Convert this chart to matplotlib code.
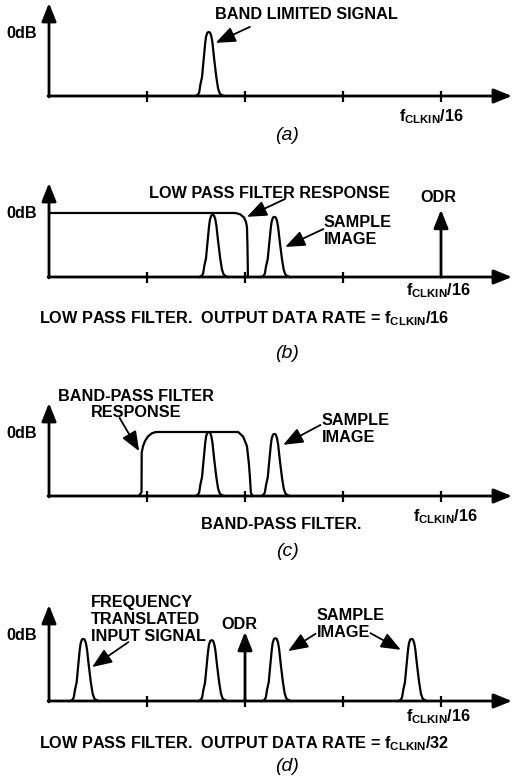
import matplotlib
matplotlib.use("Agg")
import matplotlib.pyplot as plt
import numpy as np

plt.rcParams['font.family'] = ['Liberation Sans', 'DejaVu Sans']
plt.rcParams['mathtext.fontset'] = 'custom'
plt.rcParams['mathtext.rm'] = 'Liberation Sans:bold'
plt.rcParams['mathtext.bf'] = 'Liberation Sans:bold'
plt.rcParams['mathtext.it'] = 'Liberation Sans:bold'

# ---------------- data (frequency in tick units, amplitude 1 = 0dB) ----------------
# normalised shape of one band-limited signal (offset from centre, relative height)
peak_dx = [-0.135, -0.110, -0.097, -0.085, -0.068, -0.052, -0.036, -0.027, -0.014, 0.0,
           0.014, 0.027, 0.038, 0.056, 0.077, 0.095, 0.112, 0.128, 0.155]
peak_dy = [0.0, 0.02, 0.06, 0.18, 0.30, 0.57, 0.83, 0.93, 0.99, 1.0,
           0.99, 0.93, 0.83, 0.57, 0.30, 0.12, 0.04, 0.02, 0.0]

a_centers = [1.63]
a_amps = [1.0]

b_centers = [1.67, 2.30]
b_amps = [0.97, 0.94]
lpf_x = [0.0, 1.90, 1.95, 1.99, 2.01, 2.02, 2.025, 2.03]
lpf_y = [1.0, 1.0, 0.98, 0.93, 0.86, 0.78, 0.50, 0.0]
b_odr = 4.0
b_odr_h = 1.05

c_centers = [1.63, 2.30]
c_amps = [1.0, 0.97]
bpf_x = [0.918, 0.944, 0.946, 0.96, 0.98, 1.01, 1.05, 1.09, 1.93, 1.98, 2.02, 2.04, 2.05, 2.06, 2.077]
bpf_y = [0.0, 0.06, 0.68, 0.78, 0.86, 0.93, 0.98, 1.0, 1.0, 0.93, 0.78, 0.50, 0.30, 0.05, 0.0]

d_centers = [0.35, 1.66, 2.31, 3.70]
d_amps = [0.97, 0.95, 0.98, 0.97]
d_odr = 2.0
d_odr_h = 1.08

ticks_a = [1, 2, 3, 4]
ticks_b = [1, 2, 3]
ticks_c = [1, 2, 3, 4]
ticks_d = [1, 2, 3, 4]

FCLK16 = r'$\mathrm{f_{CLKIN}/16}$'
FCLK32 = r'$\mathrm{f_{CLKIN}/32}$'

# ---------------- layout ----------------
W, H = 512, 783
fig = plt.figure(figsize=(W / 100, H / 100), dpi=100)
X0 = 49        # y-axis pixel column
UX = 98.0      # pixels per tick unit
UY = 64.0      # pixels per 0dB
XMAX = (W - X0) / UX

BOLD = dict(fontsize=11.7, fontweight='bold', color='black')
LW = 1.6


def make_axes(y_axis_px, top_px):
    h = y_axis_px - top_px
    ax = fig.add_axes([X0 / W, 1 - y_axis_px / H, (W - X0) / W, h / H])
    ax.set_xlim(0, XMAX)
    ax.set_ylim(0, h / UY)
    ax.axis('off')
    ymax = h / UY
    arr = dict(arrowstyle='-|>,head_length=0.55,head_width=0.22', lw=2, color='black',
               mutation_scale=20, shrinkA=0, shrinkB=0)
    ax.annotate('', xy=(XMAX, 0), xytext=(-0.01, 0), arrowprops=arr, annotation_clip=False)
    ax.annotate('', xy=(0, ymax), xytext=(0, -0.015), arrowprops=arr, annotation_clip=False)
    return ax


def draw_ticks(ax, ticks):
    ax.vlines(ticks, -0.095, 0.08, color='black', lw=1.6, clip_on=False)


def draw_peaks(ax, centers, amps):
    for c, a in zip(centers, amps):
        ax.plot([c + d for d in peak_dx], [a * v for v in peak_dy], color='black', lw=LW,
                clip_on=False, solid_joinstyle='round')


def pointer(ax, start, end):
    ax.annotate('', xy=end, xytext=start,
                arrowprops=dict(arrowstyle='-|>,head_length=0.75,head_width=0.3', lw=1.3,
                                color='black', mutation_scale=16, shrinkA=0, shrinkB=0),
                annotation_clip=False)


def odr_arrow(ax, x, h):
    ax.annotate('', xy=(x, h), xytext=(x, 0),
                arrowprops=dict(arrowstyle='-|>,head_length=0.55,head_width=0.22', lw=2,
                                color='black', mutation_scale=20, shrinkA=0, shrinkB=0),
                annotation_clip=False)


def label(ax, x, y, s, **kw):
    d = dict(BOLD)
    d.update(kw)
    ax.text(x, y, s, clip_on=False, **d)


def sub(ax, x, y, s):
    ax.text(x, y, s, fontsize=14, style='italic', ha='center', va='center', clip_on=False)


# ---------------- (a) ----------------
ax = make_axes(96, 3)
draw_ticks(ax, ticks_a)
draw_peaks(ax, a_centers, a_amps)
label(ax, -0.12, 0.98, '0dB', ha='right', va='center')
label(ax, 2.63, 1.28, 'BAND LIMITED SIGNAL', ha='center', va='center')
pointer(ax, (2.05, 1.08), (1.70, 0.83))
label(ax, 3.9, -0.33, FCLK16, ha='center', va='center')
sub(ax, 2.43, -0.62, '(a)')

# ---------------- (b) ----------------
ax = make_axes(277, 183)
draw_ticks(ax, ticks_b)
ax.plot(lpf_x, lpf_y, color='black', lw=LW, clip_on=False)
draw_peaks(ax, b_centers, b_amps)
odr_arrow(ax, b_odr, b_odr_h)
label(ax, -0.12, 1.0, '0dB', ha='right', va='center')
label(ax, 2.245, 1.31, 'LOW PASS FILTER RESPONSE', ha='center', va='center')
pointer(ax, (2.41, 1.22), (2.02, 0.94))
label(ax, 3.97, 1.25, 'ODR', ha='center', va='center')
label(ax, 2.80, 0.72, 'SAMPLE\nIMAGE', ha='left', va='center', linespacing=1.15)
pointer(ax, (2.80, 0.75), (2.41, 0.47))
label(ax, 3.97, -0.22, FCLK16, ha='center', va='center')
label(ax, 1.995, -0.65, 'LOW PASS FILTER.  OUTPUT DATA RATE = ' + FCLK16, ha='center', va='center')
sub(ax, 2.43, -1.19, '(b)')

# ---------------- (c) ----------------
ax = make_axes(496, 403)
draw_ticks(ax, ticks_c)
ax.plot(bpf_x, bpf_y, color='black', lw=LW, clip_on=False)
draw_peaks(ax, c_centers, c_amps)
label(ax, -0.12, 0.98, '0dB', ha='right', va='center')
label(ax, 0.89, 1.43, 'BAND-PASS FILTER\nRESPONSE', ha='center', va='center', linespacing=1.12)
pointer(ax, (0.72, 1.22), (0.92, 0.70))
label(ax, 2.78, 1.05, 'SAMPLE\nIMAGE', ha='left', va='center', linespacing=1.15)
pointer(ax, (2.77, 1.11), (2.39, 0.80))
label(ax, 2.37, -0.44, 'BAND-PASS FILTER.', ha='center', va='center')
label(ax, 4.04, -0.32, FCLK16, ha='center', va='center')
sub(ax, 2.43, -0.87, '(c)')

# ---------------- (d) ----------------
ax = make_axes(701, 605)
draw_ticks(ax, ticks_d)
draw_peaks(ax, d_centers, d_amps)
odr_arrow(ax, d_odr, d_odr_h)
label(ax, -0.12, 1.03, '0dB', ha='right', va='center')
label(ax, 0.43, 1.27, 'FREQUENCY\nTRANSLATED\nINPUT SIGNAL', ha='left', va='center', linespacing=1.15)
pointer(ax, (0.81, 0.92), (0.44, 0.53))
label(ax, 1.94, 1.19, 'ODR', ha='center', va='center')
label(ax, 2.73, 1.20, 'SAMPLE\nIMAGE', ha='left', va='center', linespacing=1.15)
pointer(ax, (2.72, 1.05), (2.44, 0.78))
pointer(ax, (3.28, 1.06), (3.59, 0.80))
label(ax, 3.97, -0.25, FCLK16, ha='center', va='center')
label(ax, 1.985, -0.66, 'LOW PASS FILTER.  OUTPUT DATA RATE = ' + FCLK32, ha='center', va='center')
sub(ax, 2.43, -1.03, '(d)')

fig.savefig('out.png', dpi=100)
